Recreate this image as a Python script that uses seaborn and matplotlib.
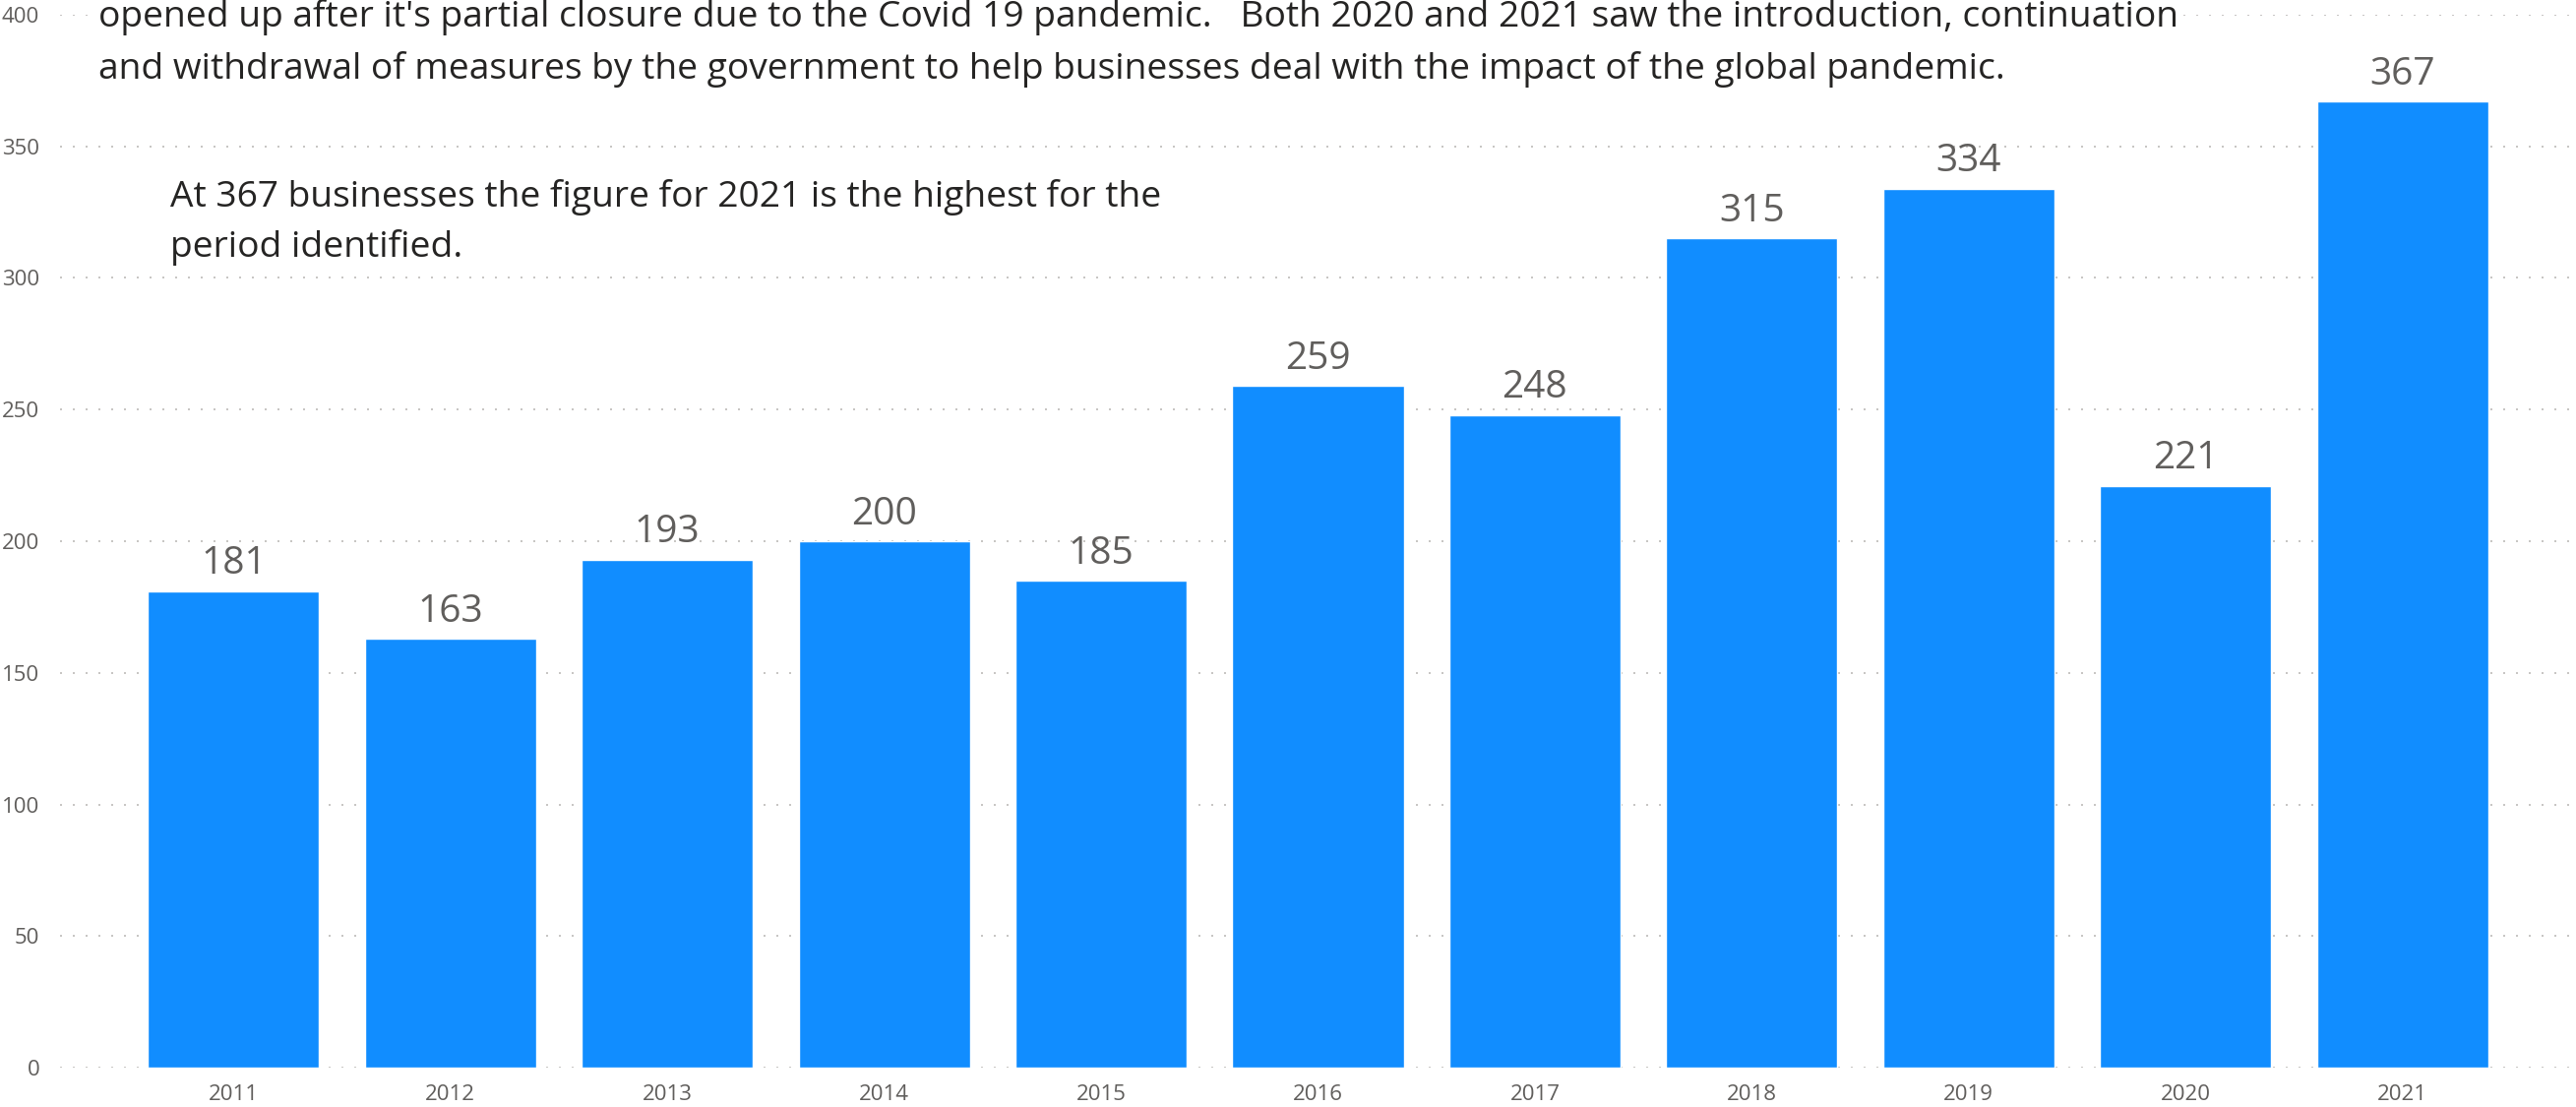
import matplotlib
matplotlib.use('Agg')
import matplotlib.pyplot as plt
import seaborn as sns
import pandas as pd

# data
years  = ['2011', '2012', '2013', '2014', '2015', '2016', '2017', '2018', '2019', '2020', '2021']
counts = [181, 163, 193, 200, 185, 259, 248, 315, 334, 221, 367]
yticks = [0, 50, 100, 150, 200, 250, 300, 350, 400]

top_lines = [
    "opened up after it's partial closure due to the Covid 19 pandemic.   Both 2020 and 2021 saw the introduction, continuation",
    "and withdrawal of measures by the government to help businesses deal with the impact of the global pandemic.",
]
note_lines = [
    "At 367 businesses the figure for 2021 is the highest for the",
    "period identified.",
]

df = pd.DataFrame({'year': years, 'count': counts})

sns.set_theme(style='white')
plt.rcParams['font.family'] = ['Open Sans', 'DejaVu Sans']

W, H = 2618, 1125
fig = plt.figure(figsize=(W / 100, H / 100), dpi=100)
ax = fig.add_axes([61 / W, 1 - 1085 / H, 1 - 61 / W, (1085 - 15) / H])

sns.barplot(data=df, x='year', y='count', color='#118DFF', saturation=1,
            width=0.79, ax=ax, zorder=2)

ax.set_ylim(0, 400)
ax.set_xlim(-0.8, 10.8)
ax.set_yticks(yticks)
ax.set_xlabel('')
ax.set_ylabel('')
ax.yaxis.grid(True, linestyle=(0, (1, 5.5)), color='#C8C6C4', linewidth=1.44, zorder=0)
ax.set_axisbelow(True)
for s in ax.spines.values():
    s.set_visible(False)
ax.tick_params(axis='y', length=0, pad=15, labelsize=16, labelcolor='#605E5C')
ax.tick_params(axis='x', length=0, pad=12, labelsize=16, labelcolor='#605E5C')

ax.bar_label(ax.containers[0], padding=6, fontsize=28, color='#605E5C')

# text boxes (white background hides the grid behind them)
for i, line in enumerate(top_lines):
    fig.text(100 / W, 1 - (27 + 53 * i) / H, line, fontsize=26.7, color='#252423',
             va='baseline', ha='left',
             bbox=dict(facecolor='white', edgecolor='none', pad=2))
for i, line in enumerate(note_lines):
    fig.text(173 / W, 1 - (210 + 51 * i) / H, line, fontsize=26.7, color='#252423',
             va='baseline', ha='left',
             bbox=dict(facecolor='white', edgecolor='none', pad=6))

fig.savefig('out.png', dpi=100, facecolor='white')
